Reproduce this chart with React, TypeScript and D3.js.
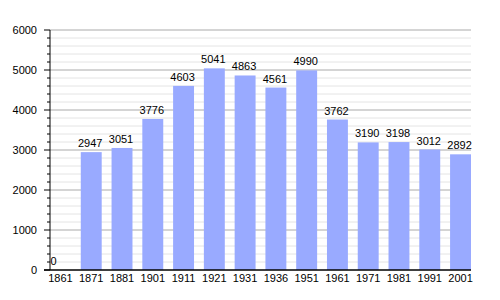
import React from "react";
import * as d3 from "d3";

const years = ["1861","1871","1881","1901","1911","1921","1931","1936","1951","1961","1971","1981","1991","2001"];
const population = [0,2947,3051,3776,4603,5041,4863,4561,4990,3762,3190,3198,3012,2892];
const yTicks = [0,1000,2000,3000,4000,5000,6000];

export default function App() {
  const width = 500, height = 300;
  const left = 50, right = 471, top = 30, bottom = 270;
  const x = d3.scaleBand<string>().domain(years).range([left, right]).paddingInner(0.32).paddingOuter(0);
  const y = d3.scaleLinear().domain([0, 6000]).range([bottom, top]);
  const minor = d3.range(0, 6001, 200).filter(v => v % 1000 !== 0);
  const font = "'Liberation Sans', Arial, sans-serif";
  return (
    <svg width={width} height={height} style={{ position: "absolute", left: 0, top: 0, background: "#fff" }} fontFamily={font}>
      {minor.map(v => (
        <line key={"m" + v} x1={left} x2={right} y1={y(v)} y2={y(v)} stroke="#e4e4e4" strokeWidth={1} />
      ))}
      {yTicks.filter(v => v > 0).map(v => (
        <line key={"g" + v} x1={left} x2={right} y1={y(v)} y2={y(v)} stroke="#aaaaaa" strokeWidth={1} />
      ))}
      {years.map((yr, i) => (
        <rect key={yr} x={x(yr)!} y={y(population[i])} width={x.bandwidth()} height={bottom - y(population[i])} fill="#99aaff" />
      ))}
      {years.map((yr, i) => {
        const v = population[i];
        const cx = v === 0 ? x(yr)! + 0.5 : x(yr)! + x.bandwidth() / 2 - 1;
        return (
          <text key={"v" + yr} x={cx} y={y(v) - 5} fontSize={11} textAnchor={v === 0 ? "start" : "middle"} fill="#000">{v}</text>
        );
      })}
      {minor.map(v => (
        <line key={"mt" + v} x1={left - 3} x2={left} y1={y(v)} y2={y(v)} stroke="#000" strokeWidth={1} />
      ))}
      {yTicks.map(v => (
        <g key={"t" + v}>
          <line x1={left - 6} x2={left} y1={y(v)} y2={y(v)} stroke="#000" strokeWidth={1} />
          <text x={37} y={y(v) + 4} fontSize={11} textAnchor="end" fill="#000">{v}</text>
        </g>
      ))}
      <line x1={left} x2={left} y1={top} y2={bottom} stroke="#000" strokeWidth={1} />
      <line x1={left - 6} x2={right} y1={bottom} y2={bottom} stroke="#000" strokeWidth={1.5} />
      {years.map(yr => (
        <text key={"x" + yr} x={x(yr)! + x.bandwidth() / 2} y={282} fontSize={11} textAnchor="middle" fill="#000">{yr}</text>
      ))}
    </svg>
  );
}
